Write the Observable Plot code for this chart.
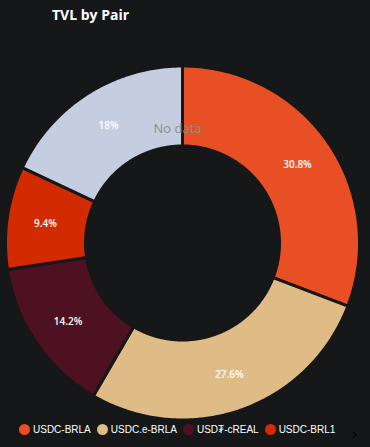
<!DOCTYPE html>
<html>
<head>
<meta charset="utf-8">
<script src="https://cdn.jsdelivr.net/npm/d3@7"></script>
<script src="https://cdn.jsdelivr.net/npm/@observablehq/plot@0.6"></script>
<style>
  html, body { margin: 0; padding: 0; background: #161719; }
  #wrap { position: relative; width: 370px; height: 447px; overflow: hidden; background: #161719; }
  #title { position: absolute; left: 52px; top: 5px; font-family: "Open Sans", sans-serif; font-weight: 700; font-size: 14px; color: #ffffff; }
  #chart { position: absolute; left: 0; top: 0; }
  #nodata { position: absolute; left: 0; width: 355px; top: 119px; text-align: center; font-family: "Open Sans", sans-serif; font-size: 13px; color: #8e8e8e; }
  #legend { position: absolute; left: 19px; top: 424px; display: flex; font-family: "Liberation Sans", Arial, sans-serif; font-size: 10px; color: #ffffff; }
  .item { display: flex; align-items: center; margin-right: 6px; }
  .sw { width: 11px; height: 11px; border-radius: 50%; margin-right: 3px; }
  #more { position: absolute; left: 351px; top: 425px; font-family: "DejaVu Sans", sans-serif; font-size: 18px; line-height: 18px; color: #060606; }
</style>
</head>
<body>
<div id="wrap">
  <div id="chart"></div>
  <div id="title">TVL by Pair</div>
  <div id="nodata">No data</div>
  <div id="legend"></div>
  <div id="more">›</div>
</div>
<script>
// Data
const pairs = ["USDC-BRLA", "USDC.e-BRLA", "USD₮-cREAL", "USDC-BRL1", "Other"];
const shares = [30.8, 27.6, 14.2, 9.4, 18.0];
const labels = ["30.8%", "27.6%", "14.2%", "9.4%", "18%"];
const colors = ["#e84f25", "#dfbb85", "#4e1121", "#d22b02", "#c5cde0"];
const legendPairs = ["USDC-BRLA", "USDC.e-BRLA", "USD₮-cREAL", "USDC-BRL1"];

// Layout
const W = 370, H = 447;
const cx = 182.5, cy = 243, R = 177, r = 97, labelR = 139;

const arcs = d3.pie().sort(null).startAngle(0).endAngle(2 * Math.PI)(shares);

// Build annular-sector rows for area mark: x1,y1 inner, x2,y2 outer
const rows = [];
arcs.forEach((a, i) => {
  const n = Math.max(2, Math.ceil((a.endAngle - a.startAngle) / 0.01));
  for (let k = 0; k <= n; k++) {
    const t = a.startAngle + (a.endAngle - a.startAngle) * k / n;
    rows.push({
      pair: pairs[i], k,
      x1: cx + r * Math.sin(t), y1: cy - r * Math.cos(t),
      x2: cx + R * Math.sin(t), y2: cy - R * Math.cos(t)
    });
  }
});

const labelRows = arcs.map((a, i) => {
  const t = (a.startAngle + a.endAngle) / 2;
  return { pair: pairs[i], text: labels[i], x: cx + labelR * Math.sin(t), y: cy - labelR * Math.cos(t) };
});

const plot = Plot.plot({
  width: W, height: H,
  margin: 0,
  style: { background: "transparent" },
  x: { domain: [0, W], range: [0, W], axis: null },
  y: { domain: [0, H], range: [0, H], axis: null },
  color: { domain: pairs, range: colors },
  marks: [
    Plot.area(rows, {
      x1: "x1", y1: "y1", x2: "x2", y2: "y2", z: "pair",
      fill: "pair", stroke: "#161719", strokeWidth: 3, curve: "linear"
    }),
    Plot.text(labelRows, {
      x: "x", y: "y", text: "text", fill: "#ffffff",
      fontSize: 10, fontFamily: "Open Sans, sans-serif", fontWeight: 600
    })
  ]
});
document.getElementById("chart").appendChild(plot);

const lg = document.getElementById("legend");
legendPairs.forEach((p) => {
  const i = pairs.indexOf(p);
  const it = document.createElement("div");
  it.className = "item";
  const sw = document.createElement("div");
  sw.className = "sw";
  sw.style.background = colors[i];
  const tx = document.createElement("span");
  tx.textContent = p;
  it.appendChild(sw); it.appendChild(tx);
  lg.appendChild(it);
});
</script>
</body>
</html>
